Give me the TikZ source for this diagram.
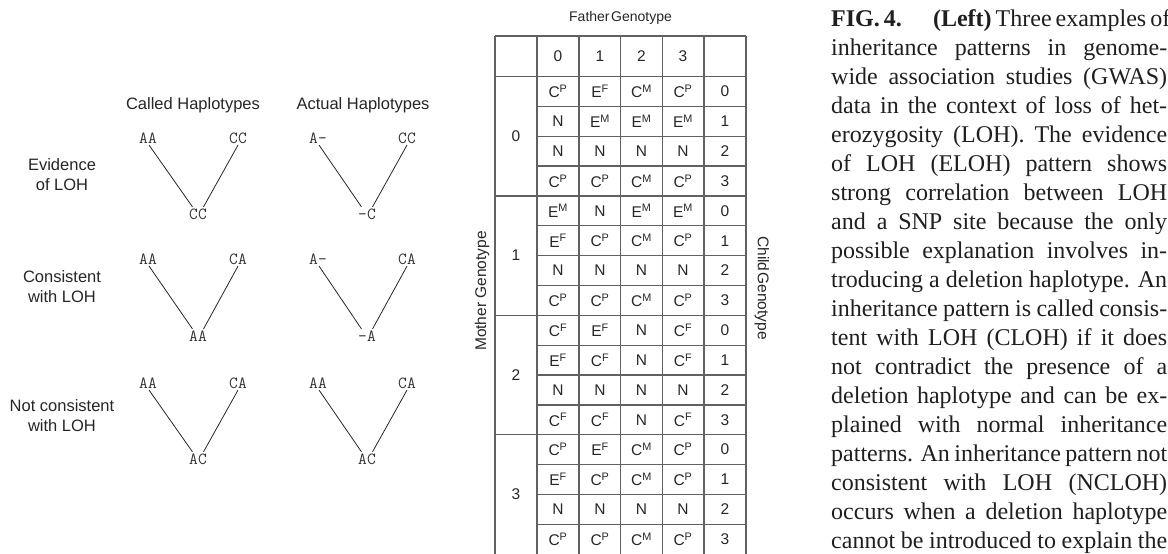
\documentclass[tikz,border=0pt]{standalone}
\usepackage{fontspec}
\setmainfont{Liberation Serif}
\setsansfont{Liberation Sans}
\newcommand\supP{\textsuperscript{P}}
\newcommand\supF{\textsuperscript{F}}
\newcommand\supM{\textsuperscript{M}}
\newcommand\capline[1]{\makebox[336pt][s]{#1}}
\tikzset{
  tline/.style={line width=1.3pt, draw=black!62},
  cell/.style={font=\sffamily\fontsize{15.5}{17}\selectfont, text=black!85, inner sep=0pt},
  axislab/.style={font=\sffamily\fontsize{15.5}{17}\selectfont, text=black!85, inner sep=0pt},
  hap/.style={font=\ttfamily\fontsize{17}{17}\selectfont, text=black!80, inner sep=1.5pt},
  rowlab/.style={font=\sffamily\fontsize{16.5}{20}\selectfont, text=black!85, align=center, inner sep=0pt},
  branch/.style={line width=0.8pt, draw=black!85},
  captxt/.style={font=\fontsize{24}{29}\selectfont, text=black!88, align=left, inner sep=0pt}
}
\begin{document}
\begin{tikzpicture}[x=1pt,y=-1pt]
\useasboundingbox (0,0) rectangle (1168,554);

% ---------- left: haplotype examples ----------
\node[rowlab] (hcalled) at (193,105) {Called Haplotypes};
\node[rowlab] (hactual) at (363,105) {Actual Haplotypes};

\node[rowlab] (lab1) at (62,175) {Evidence\\of LOH};
\node[rowlab] (lab2) at (62,287) {Consistent\\with LOH};
\node[rowlab] (lab3) at (62,416) {Not consistent\\with LOH};

% row 1
\node[hap] (a1l) at (148,138) {AA};
\node[hap] (a1r) at (238,138) {CC};
\node[hap] (a1b) at (198,214) {CC};
\node[hap] (b1l) at (318,138) {A-};
\node[hap] (b1r) at (407,138) {CC};
\node[hap] (b1b) at (367,214) {-C};
% row 2
\node[hap] (a2l) at (148,259) {AA};
\node[hap] (a2r) at (238,259) {CA};
\node[hap] (a2b) at (198,336) {AA};
\node[hap] (b2l) at (318,259) {A-};
\node[hap] (b2r) at (407,259) {CA};
\node[hap] (b2b) at (367,336) {-A};
% row 3
\node[hap] (a3l) at (148,383) {AA};
\node[hap] (a3r) at (238,383) {CA};
\node[hap] (a3b) at (198,459) {AC};
\node[hap] (b3l) at (318,383) {AA};
\node[hap] (b3r) at (407,383) {CA};
\node[hap] (b3b) at (367,459) {AC};

\foreach \tr in {a1,b1,a2,b2,a3,b3}{
  \draw[branch] ([xshift=1pt]\tr l.south) -- ([xshift=-5.5pt]\tr b.north);
  \draw[branch] (\tr r.south) -- ([xshift=5.5pt]\tr b.north);
}

% ---------- table ----------
\foreach \xx in {495,537,579,620.7,662.3,704,746}
  \draw[tline] (\xx,36) -- (\xx,557);
\draw[tline] (495,36) -- (746,36);
\draw[tline] (495,76.5) -- (746,76.5);
\foreach \kk in {4,8,12}
  \draw[tline] (495,76.5+\kk*29.85) -- (746,76.5+\kk*29.85);
\foreach \kk in {1,2,3,5,6,7,9,10,11,13,14,15}
  \draw[tline] (537,76.5+\kk*29.85) -- (746,76.5+\kk*29.85);

\node[axislab, font=\sffamily\fontsize{14}{15}\selectfont] (father) at (620.5,18) {Father\hspace{1.5pt}Genotype};
\node[axislab, rotate=90] (mother) at (482,291) {Mother Genotype};
\node[axislab, rotate=-90] (child) at (762,288) {Child\hspace{1pt}Genotype};

\node[cell] (h0) at (558,56.25) {0};
\node[cell] (h1) at (600,56.25) {1};
\node[cell] (h2) at (641.5,56.25) {2};
\node[cell] (h3) at (683,56.25) {3};

\foreach \bb in {0,1,2,3}
  \node[cell] (m\bb) at (516,76.5+4*\bb*29.85+2*29.85) {\bb};

\foreach \ca/\cb/\cc/\cd/\kk/\gg in {
  C\supP/E\supF/C\supM/C\supP/0/0,
  N/E\supM/E\supM/E\supM/1/1,
  N/N/N/N/2/2,
  C\supP/C\supP/C\supM/C\supP/3/3,
  E\supM/N/E\supM/E\supM/4/0,
  E\supF/C\supP/C\supM/C\supP/5/1,
  N/N/N/N/6/2,
  C\supP/C\supP/C\supM/C\supP/7/3,
  C\supF/E\supF/N/C\supF/8/0,
  E\supF/C\supF/N/C\supF/9/1,
  N/N/N/N/10/2,
  C\supF/C\supF/N/C\supF/11/3,
  C\supP/E\supF/C\supM/C\supP/12/0,
  E\supF/C\supP/C\supM/C\supP/13/1,
  N/N/N/N/14/2,
  C\supP/C\supP/C\supM/C\supP/15/3}{
  \node[cell] (r\kk c1) at (558,76.5+\kk*29.85+14.925) {\ca};
  \node[cell] (r\kk c2) at (600,76.5+\kk*29.85+14.925) {\cb};
  \node[cell] (r\kk c3) at (641.5,76.5+\kk*29.85+14.925) {\cc};
  \node[cell] (r\kk c4) at (683,76.5+\kk*29.85+14.925) {\cd};
  \node[cell] (r\kk c5) at (725,76.5+\kk*29.85+14.925) {\gg};
}

% ---------- caption ----------
\node[captxt, anchor=north west] (caption) at (831,8) {%
\capline{\rule{0pt}{18pt}\textbf{FIG. 4.}\hspace{1.3em}\textbf{(Left)} Three examples of}\\
\capline{inheritance patterns in genome-}\\
\capline{wide association studies (GWAS)}\\
\capline{data in the context of loss of het-}\\
\capline{erozygosity (LOH). The evidence}\\
\capline{of LOH (ELOH) pattern shows}\\
\capline{strong correlation between LOH}\\
\capline{and a SNP site because the only}\\
\capline{possible explanation involves in-}\\
\capline{troducing a deletion haplotype. An}\\
\capline{inheritance pattern is called consis-}\\
\capline{tent with LOH (CLOH) if it does}\\
\capline{not contradict the presence of a}\\
\capline{deletion haplotype and can be ex-}\\
\capline{plained with normal inheritance}\\
\capline{patterns. An inheritance pattern not}\\
\capline{consistent with LOH (NCLOH)}\\
\capline{occurs when a deletion haplotype}\\
\capline{cannot be introduced to explain the}};
\end{tikzpicture}
\end{document}
